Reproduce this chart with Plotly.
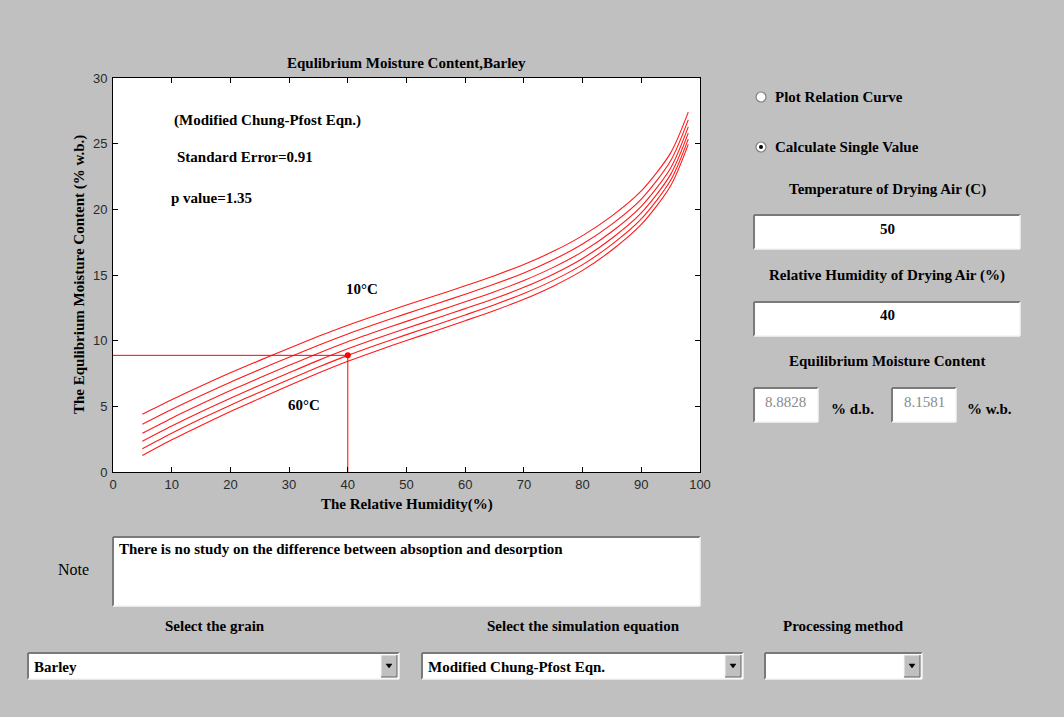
import plotly.graph_objects as go

# ---- data -------------------------------------------------------------
rh = [5, 10, 15, 20, 25, 30, 35, 40, 45, 50, 55, 60, 65, 70, 75, 80, 85, 90, 95, 98]
temps_c = [10, 20, 30, 40, 50, 60]

emc_10c = [4.40, 5.50, 6.55, 7.55, 8.50, 9.43, 10.33, 11.18, 11.96, 12.71,
           13.44, 14.18, 14.95, 15.80, 16.80, 18.00, 19.50, 21.40, 24.30, 27.40]
emc_20c = [3.64, 4.76, 5.82, 6.84, 7.80, 8.74, 9.65, 10.51, 11.30, 12.06,
           12.79, 13.54, 14.31, 15.16, 16.16, 17.36, 18.87, 20.78, 23.70, 26.81]
emc_30c = [2.95, 4.10, 5.17, 6.20, 7.17, 8.12, 9.05, 9.92, 10.71, 11.47,
           12.21, 12.96, 13.73, 14.58, 15.58, 16.78, 18.31, 20.23, 23.15, 26.28]
emc_40c = [2.34, 3.50, 4.59, 5.62, 6.60, 7.56, 8.50, 9.38, 10.18, 10.94,
           11.69, 12.44, 13.21, 14.06, 15.06, 16.26, 17.80, 19.73, 22.66, 25.80]
emc_50c = [1.77, 2.95, 4.05, 5.09, 6.08, 7.05, 7.99, 8.88, 9.69, 10.46,
           11.20, 11.96, 12.74, 13.59, 14.59, 15.79, 17.33, 19.27, 22.21, 25.35]
emc_60c = [1.25, 2.45, 3.55, 4.60, 5.60, 6.58, 7.53, 8.43, 9.24, 10.01,
           10.76, 11.52, 12.30, 13.15, 14.15, 15.35, 16.90, 18.85, 21.80, 24.95]
emc_curves = [emc_10c, emc_20c, emc_30c, emc_40c, emc_50c, emc_60c]

# single-value calculation shown in the panel
temp_sel = 50
rh_sel = 40
emc_db_sel = 8.8828
emc_wb_sel = 8.1581

x_ticks = [0, 10, 20, 30, 40, 50, 60, 70, 80, 90, 100]
y_ticks = [0, 5, 10, 15, 20, 25, 30]

grain = "Barley"
equation = "Modified Chung-Pfost Eqn."
note_text = "There is no study on the difference between absoption and desorption"

# ---- layout helpers (window pixels -> paper coords) -------------------
W, H = 1064, 717
PL, PR, PT, PB = 113, 700, 78, 472


def X(px):
    return (px - PL) / (PR - PL)


def Y(py):
    return (PB - py) / (PB - PT)


SERIF = "Liberation Serif"
SANS = "Liberation Sans"
GUI_GRAY = "#c0c0c0"
FS = 15

shapes = []
annotations = []


def text(px, py, s, xanchor="center", size=FS, color="black", bold=True, family=SERIF):
    annotations.append(dict(
        x=X(px), y=Y(py), xref="paper", yref="paper",
        text=f"<b>{s}</b>" if bold else s, showarrow=False,
        xanchor=xanchor, yanchor="middle",
        font=dict(family=family, size=size, color=color),
    ))


def seg(x0, y0, x1, y1, color, width=1):
    shapes.append(dict(type="line", xref="paper", yref="paper",
                       x0=X(x0), y0=Y(y0), x1=X(x1), y1=Y(y1),
                       line=dict(color=color, width=width)))


def box(x0, y0, x1, y1, fill="white", sunken=True):
    shapes.append(dict(type="rect", xref="paper", yref="paper",
                       x0=X(x0), x1=X(x1), y0=Y(y1), y1=Y(y0),
                       fillcolor=fill, line=dict(width=0)))
    dark, light = ("#7a7a7a", "#f4f4f4") if sunken else ("#f4f4f4", "#7a7a7a")
    seg(x0, y0, x1, y0, dark, 2)
    seg(x0, y0, x0, y1, dark, 2)
    seg(x0, y1, x1, y1, light, 1.5)
    seg(x1, y0, x1, y1, light, 1.5)


def radio(cx, cy, selected):
    r = 5
    shapes.append(dict(type="circle", xref="paper", yref="paper",
                       x0=X(cx - r), x1=X(cx + r), y0=Y(cy + r), y1=Y(cy - r),
                       fillcolor="white", line=dict(color="#808080", width=1.2)))
    if selected:
        d = 2
        shapes.append(dict(type="circle", xref="paper", yref="paper",
                           x0=X(cx - d), x1=X(cx + d), y0=Y(cy + d), y1=Y(cy - d),
                           fillcolor="black", line=dict(color="black", width=0)))


def popup(x0, y0, x1, y1, label):
    box(x0, y0, x1, y1)
    bx0, bx1 = x1 - 18, x1 - 2
    shapes.append(dict(type="rect", xref="paper", yref="paper",
                       x0=X(bx0), x1=X(bx1), y0=Y(y1 - 2), y1=Y(y0 + 2),
                       fillcolor=GUI_GRAY, line=dict(width=0)))
    seg(bx0, y0 + 2, bx1, y0 + 2, "#f4f4f4", 1)
    seg(bx0, y0 + 2, bx0, y1 - 2, "#f4f4f4", 1)
    seg(bx0, y1 - 2, bx1, y1 - 2, "#606060", 1)
    seg(bx1, y0 + 2, bx1, y1 - 2, "#606060", 1)
    cx, cy = (bx0 + bx1) / 2, (y0 + y1) / 2
    shapes.append(dict(type="path", xref="paper", yref="paper",
                       path=(f"M {X(cx - 3)} {Y(cy - 2)} L {X(cx + 3)} {Y(cy - 2)} "
                             f"L {X(cx)} {Y(cy + 2)} Z"),
                       fillcolor="black", line=dict(color="black", width=0.5)))
    if label:
        text(x0 + 4, (y0 + y1) / 2 + 1, label, xanchor="left")


# ---- traces ------------------------------------------------------------
fig = go.Figure()
for t, emc in zip(temps_c, emc_curves):
    fig.add_trace(go.Scatter(x=rh, y=emc, mode="lines", name=f"{t}°C",
                             line=dict(color="#ff1a1a", width=1.1, shape="spline",
                                       smoothing=0.8),
                             hoverinfo="x+y+name"))

# guide lines to the selected point
fig.add_trace(go.Scatter(x=[0, rh_sel], y=[emc_db_sel, emc_db_sel], mode="lines",
                         line=dict(color="red", width=1), hoverinfo="skip"))
fig.add_trace(go.Scatter(x=[rh_sel, rh_sel], y=[0, emc_db_sel], mode="lines",
                         line=dict(color="red", width=1), hoverinfo="skip"))
fig.add_trace(go.Scatter(x=[rh_sel], y=[emc_db_sel], mode="markers",
                         marker=dict(color="red", size=6), hoverinfo="x+y"))


# ---- texts inside the axes -----------------------------------------------
def data_text(x, y, s):
    annotations.append(dict(x=x, y=y, xref="x", yref="y", text=f"<b>{s}</b>",
                            showarrow=False, xanchor="left", yanchor="middle",
                            font=dict(family=SERIF, size=FS, color="black")))


data_text(10, 26.8, "(Modified Chung-Pfost Eqn.)")
data_text(10.6, 24.0, "Standard Error=0.91")
data_text(9.6, 20.9, "p value=1.35")
data_text(39.3, 13.9, "10°C")
data_text(29.5, 5.1, "60°C")

# ---- axis title texts ------------------------------------------------------
text((PL + PR) / 2, 63, "Equlibrium Moisture Content,Barley")
text((PL + PR) / 2, 504, "The Relative Humidity(%)")
annotations.append(dict(x=X(79), y=Y(275), xref="paper", yref="paper",
                        text="<b>The Equlibrium Moisture Content (% w.b.)</b>",
                        showarrow=False, textangle=-90, xanchor="center", yanchor="middle",
                        font=dict(family=SERIF, size=FS, color="black")))

# ---- control panel on the right --------------------------------------------
radio(761, 97, False)
text(773, 97, "Plot Relation Curve", xanchor="left")
radio(761, 147, True)
text(773, 147, "Calculate Single Value", xanchor="left")

text(887, 189, "Temperature of Drying Air (C)")
box(754, 215, 1020, 249)
text(887, 229, str(temp_sel))

text(887, 275, "Relative Humidity of Drying Air (%)")
box(754, 302, 1020, 336)
text(887, 315, str(rh_sel))

text(887, 361, "Equilibrium Moisture Content")
box(754, 388, 818, 422)
text(786, 402, f"{emc_db_sel:.4f}", color="#8a8a8a", bold=False)
text(829, 409, "% d.b.", xanchor="left")
box(892, 388, 956, 422)
text(924, 402, f"{emc_wb_sel:.4f}", color="#8a8a8a", bold=False)
text(965, 409, "% w.b.", xanchor="left")

# ---- note and selectors --------------------------------------------------
text(73, 569, "Note", bold=False, size=16)
box(113, 537, 700, 606)
text(117, 549, note_text, xanchor="left")

text(215, 626, "Select the grain")
popup(28, 653, 399, 679, grain)
text(583, 626, "Select the simulation equation")
popup(422, 653, 743, 679, equation)
text(843, 626, "Processing method")
popup(765, 653, 922, 679, "")

axis_common = dict(showgrid=False, zeroline=False, showline=True, linecolor="black",
                   linewidth=1, mirror="ticks", ticks="inside", ticklen=5,
                   tickcolor="black", tickfont=dict(family=SANS, size=13, color="#2a2a2a"))

fig.update_layout(
    width=W, height=H, autosize=False,
    margin=dict(l=PL, r=W - PR, t=PT, b=H - PB, pad=0),
    paper_bgcolor=GUI_GRAY, plot_bgcolor="white",
    showlegend=False,
    xaxis=dict(range=[0, 100], tickvals=x_ticks, ticklabelstandoff=0, **axis_common),
    yaxis=dict(range=[0, 30], tickvals=y_ticks, ticklabelstandoff=2, **axis_common),
    shapes=shapes, annotations=annotations,
)

fig.write_html("out.html")
